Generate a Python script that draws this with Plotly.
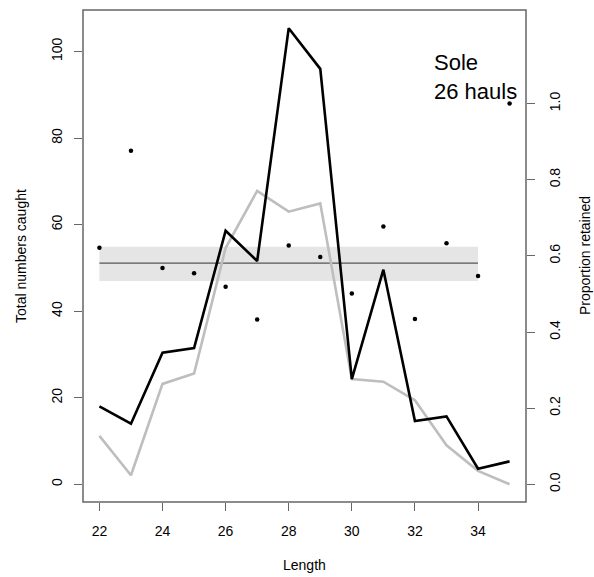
import plotly.graph_objects as go

lengths = list(range(22, 36))
total_black = [18.0, 14.0, 30.4, 31.5, 58.6, 51.6, 105.4, 96.0, 24.3, 49.6, 14.6, 15.7, 3.6, 5.3]
total_grey = [11.2, 2.1, 23.2, 25.6, 54.6, 67.8, 63.0, 64.9, 24.3, 23.7, 19.4, 9.0, 3.1, 0.0]
prop_retained = [0.621, 0.876, 0.568, 0.554, 0.519, 0.433, 0.627, 0.597, 0.501, 0.677, 0.434, 0.633, 0.547, 1.0]
fit_x = [22, 34]
fit_mean = 0.581
fit_lo = 0.534
fit_hi = 0.624
x_ticks = [22, 24, 26, 28, 30, 32, 34]
y_ticks = [0, 20, 40, 60, 80, 100]
y2_ticks = [0.0, 0.2, 0.4, 0.6, 0.8, 1.0]

FONT = "Liberation Sans, Arial, sans-serif"
AX = "#666666"

fig = go.Figure()

# totals (left axis)
fig.add_trace(go.Scatter(x=lengths, y=total_grey, mode="lines",
                         line=dict(color="#bebebe", width=2.6), showlegend=False))
fig.add_trace(go.Scatter(x=lengths, y=total_black, mode="lines",
                         line=dict(color="#000000", width=2.6), showlegend=False))

# proportions (right axis)
fig.add_trace(go.Scatter(x=lengths, y=prop_retained, yaxis="y2", mode="markers",
                         marker=dict(color="#000000", size=4.5), showlegend=False))

fig.update_layout(
    width=594, height=577,
    margin=dict(l=83, r=68, t=10, b=75),
    paper_bgcolor="white", plot_bgcolor="white",
    font=dict(family=FONT, size=14, color="#000000"),
    xaxis=dict(range=[21.48, 35.52], tickvals=x_ticks, ticks="outside", ticklen=8,
               tickcolor=AX, tickwidth=1.3, showgrid=False, zeroline=False,
               showline=False, ticklabelstandoff=8, tickfont=dict(size=14)),
    yaxis=dict(range=[-4.09, 109.6], tickvals=y_ticks, ticks="outside", ticklen=8,
               tickcolor=AX, tickwidth=1.3, showgrid=False, zeroline=False,
               showline=False, tickangle=-90, ticklabelstandoff=6, tickfont=dict(size=14)),
    yaxis2=dict(range=[-0.0465, 1.2457], tickvals=y2_ticks, tickformat=".1f",
                overlaying="y", side="right", ticks="outside", ticklen=8,
                tickcolor=AX, tickwidth=1.3, showgrid=False, zeroline=False,
                showline=False, tickangle=-90, ticklabelstandoff=8, tickfont=dict(size=14)),
    shapes=[
        dict(type="rect", xref="x", yref="y2", x0=fit_x[0], x1=fit_x[-1], y0=fit_lo, y1=fit_hi,
             fillcolor="#e5e5e5", line=dict(width=0), layer="below"),
        dict(type="line", xref="x", yref="y2", x0=fit_x[0], x1=fit_x[-1], y0=fit_mean, y1=fit_mean,
             line=dict(color="#555555", width=1.3), layer="below"),
        dict(type="rect", xref="paper", yref="paper", x0=0, x1=1, y0=0, y1=1,
             line=dict(color=AX, width=1.5), layer="above"),
    ],
    annotations=[
        dict(text="Sole<br>26 hauls", xref="paper", yref="paper", x=(432 - 83) / 443, y=1 - (48 - 10) / 492,
             xanchor="left", yanchor="top", align="left", showarrow=False,
             font=dict(size=22, family=FONT, color="#000000")),
        dict(text="Length", xref="paper", yref="paper", x=0.5, y=-(565 - 502) / 492,
             xanchor="center", yanchor="middle", showarrow=False, font=dict(size=14)),
        dict(text="Total numbers caught", xref="paper", yref="paper", x=(21 - 83) / 443, y=0.5,
             xanchor="center", yanchor="middle", showarrow=False, textangle=-90, font=dict(size=14)),
        dict(text="Proportion retained", xref="paper", yref="paper", x=(585 - 83) / 443, y=0.5,
             xanchor="center", yanchor="middle", showarrow=False, textangle=-90, font=dict(size=14)),
    ],
)

fig.write_html("out.html")
